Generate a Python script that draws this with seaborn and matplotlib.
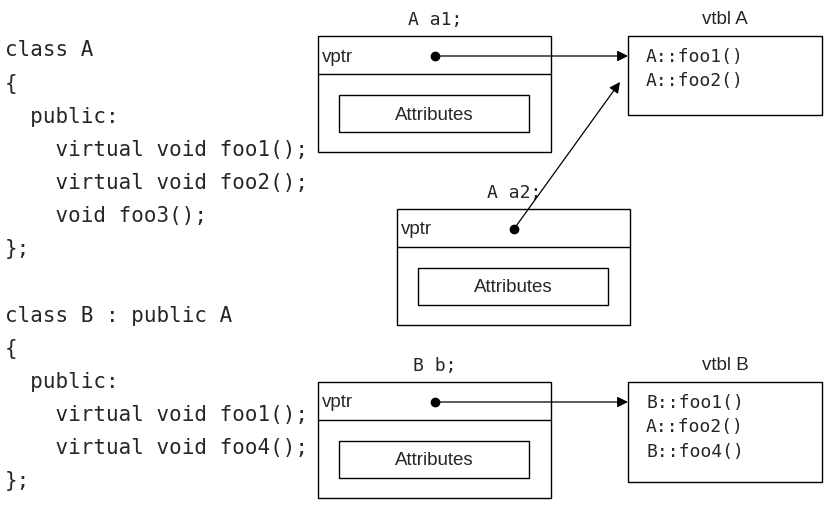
import matplotlib
matplotlib.use("Agg")
import matplotlib.pyplot as plt
import seaborn as sns
from matplotlib.patches import Rectangle

sns.set_theme(style="white")
plt.rcParams['font.family'] = ['DejaVu Sans']

code_lines = ["class A", "{", "  public:", "    virtual void foo1();", "    virtual void foo2();",
              "    void foo3();", "};", "", "class B : public A", "{", "  public:",
              "    virtual void foo1();", "    virtual void foo4();", "};"]
code_y = [50, 84, 117, 150, 183, 216, 249, 282, 316, 349, 382, 415, 448, 481]

objects = [  # label, x, y(top)
    ("A a1;", 318, 37),
    ("A a2;", 397, 210),
    ("B b;", 318, 383),
]
vtbls = [
    ("vtbl A", 37, ["A::foo1()", "A::foo2()"], 79),
    ("vtbl B", 383, ["B::foo1()", "A::foo2()", "B::foo4()"], 100),
]

fig = plt.figure(figsize=(8.3, 5.1), dpi=100)
ax = fig.add_axes([0, 0, 1, 1])
ax.set_xlim(0, 830); ax.set_ylim(510, 0); ax.axis("off")
mono = "DejaVu Sans Mono"
sans = "Liberation Sans"

for t, y in zip(code_lines, code_y):
    ax.text(5, y, t, family=mono, fontsize=15, va="center", ha="left")

W, H = 233, 116
for lab, x, y in objects:
    ax.add_patch(Rectangle((x, y), W, H, fill=False, lw=1, ec="black"))
    ax.plot([x, x + W], [y + 38, y + 38], color="black", lw=1)
    ax.text(x + 4, y + 20, "vptr", fontsize=13.5, va="center", family=sans)
    ax.add_patch(Rectangle((x + 21, y + 59), 190, 37, fill=False, lw=1, ec="black"))
    ax.text(x + 116, y + 78, "Attributes", fontsize=13.5, va="center", ha="center", family=sans)
    ax.text(x + 117, y - 17, lab, family=mono, fontsize=13, va="center", ha="center")
    ax.plot(x + 117, y + 20, "o", color="black", ms=6)

for lab, y, entries, h in vtbls:
    ax.add_patch(Rectangle((628, y), 194, h, fill=False, lw=1, ec="black"))
    ax.text(725, y - 17, lab, fontsize=13.5, va="center", ha="center", family=sans)
    for i, e in enumerate(entries):
        ax.text(646, y + 20 + 24.5 * i, e, family=mono, fontsize=13, va="center")

arrows = [((435, 57), (628, 57)), ((514, 230), (620, 83)), ((435, 403), (628, 403))]
for (x0, y0), (x1, y1) in arrows:
    ax.annotate("", xy=(x1, y1), xytext=(x0, y0),
                arrowprops=dict(arrowstyle="-|>", color="black", lw=0.9, mutation_scale=16,
                                shrinkA=0, shrinkB=0))

fig.savefig("out.png", dpi=100, facecolor="white")
